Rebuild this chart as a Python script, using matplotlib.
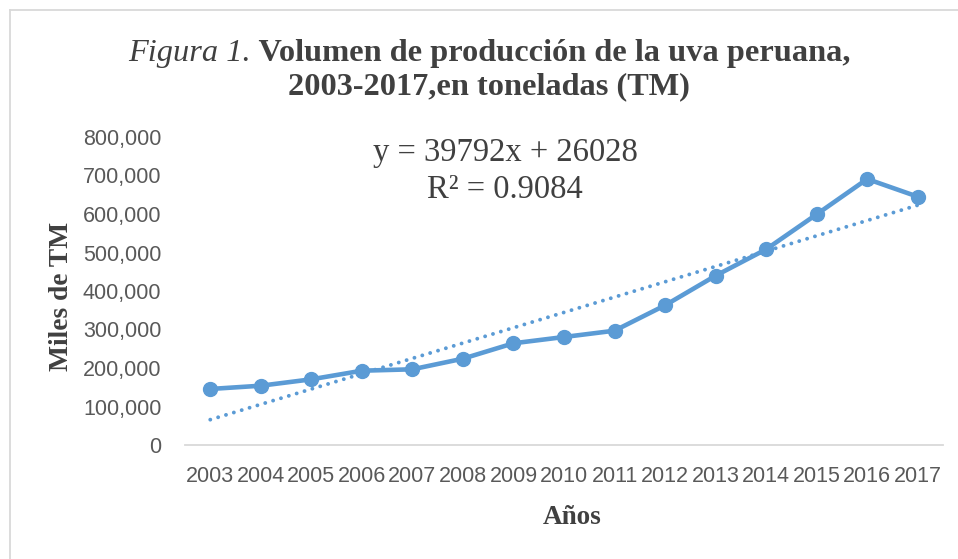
import matplotlib
matplotlib.use("Agg")
import matplotlib.pyplot as plt
from matplotlib.lines import Line2D
import numpy as np

years = ["2003", "2004", "2005", "2006", "2007", "2008", "2009", "2010",
         "2011", "2012", "2013", "2014", "2015", "2016", "2017"]
produccion = [145500, 154000, 170600, 193000, 196600, 224200, 264200, 280500,
              296900, 362800, 439700, 508300, 599200, 690900, 645000]
trend_slope = 39792
trend_intercept = 26028
r2 = 0.9084
y_ticks = [0, 100000, 200000, 300000, 400000, 500000, 600000, 700000, 800000]

W, H = 958, 559
fig = plt.figure(figsize=(W / 100, H / 100), dpi=100)
fig.patch.set_facecolor("white")

# chart border (Excel style)
fig.add_artist(Line2D([9.5 / W, 9.5 / W], [0, 1 - 9.5 / H], transform=fig.transFigure,
                      color="#d9d9d9", lw=1.3))
fig.add_artist(Line2D([9.5 / W, 1], [1 - 9.5 / H, 1 - 9.5 / H], transform=fig.transFigure,
                      color="#d9d9d9", lw=1.3))

left, right = 185 / W, 943 / W
bottom, top = (H - 445) / H, (H - 137) / H
ax = fig.add_axes([left, bottom, right - left, top - bottom])

x = np.arange(len(years))
blue = "#5B9BD5"
ax.plot(x, produccion, color=blue, lw=3.3, marker="o", markersize=10,
        solid_joinstyle="round", zorder=3)

xi = np.arange(1, len(years) + 1)
trend = trend_slope * xi + trend_intercept
ax.plot(x, trend, color=blue, lw=2.8, linestyle=(0, (0.01, 2.1)),
        dash_capstyle="round", zorder=2)

ax.set_xlim(-0.5, len(years) - 0.5)
ax.set_ylim(0, 800000)
ax.set_yticks(y_ticks)
ax.set_yticklabels([f"{v:,}" for v in y_ticks])
ax.set_xticks(x)
ax.set_xticklabels(years)

for s in ["top", "right", "left"]:
    ax.spines[s].set_visible(False)
ax.spines["bottom"].set_color("#d9d9d9")
ax.spines["bottom"].set_linewidth(1.3)
ax.tick_params(axis="both", length=0, colors="#595959", labelsize=15.5)
ax.tick_params(axis="y", pad=17)
ax.tick_params(axis="x", pad=15)
for lab in ax.get_xticklabels() + ax.get_yticklabels():
    lab.set_fontfamily("Liberation Sans")

fig.text(505 / W, 1 - 153 / H, f"y = {trend_slope}x + {trend_intercept}",
         ha="center", va="center", fontsize=23.5,
         family="Liberation Serif", color="#404040")
fig.text(505 / W, 1 - 190 / H, f"R² = {r2}",
         ha="center", va="center", fontsize=23.5,
         family="Liberation Serif", color="#404040")

fig.text(62 / W, 1 - 296 / H, "Miles de TM", rotation=90, ha="center", va="center",
         fontsize=19.8, fontweight="bold", family="Liberation Serif", color="#404040")
fig.text(572 / W, 1 - 517 / H, "Años", ha="center", va="center",
         fontsize=19.5, fontweight="bold", family="Liberation Serif", color="#404040")

# Title with mixed styles
tsize = 23.3
t1a = fig.text(0, 1 - 53 / H, "Figura 1.", ha="left", va="center", fontsize=tsize,
               style="italic", family="Liberation Serif", color="#404040")
t1b = fig.text(0, 1 - 53 / H, " Volumen de producción de la uva peruana,", ha="left",
               va="center", fontsize=tsize, fontweight="bold",
               family="Liberation Serif", color="#404040")
fig.text(489 / W, 1 - 87 / H, "2003-2017,en toneladas (TM)", ha="center", va="center",
         fontsize=tsize, fontweight="bold", family="Liberation Serif", color="#404040")
fig.canvas.draw()
r = fig.canvas.get_renderer()
wa = t1a.get_window_extent(r).width
wb = t1b.get_window_extent(r).width
start = 489 - (wa + wb) / 2
t1a.set_x(start / W)
t1b.set_x((start + wa) / W)

fig.savefig("out.png", dpi=100)
